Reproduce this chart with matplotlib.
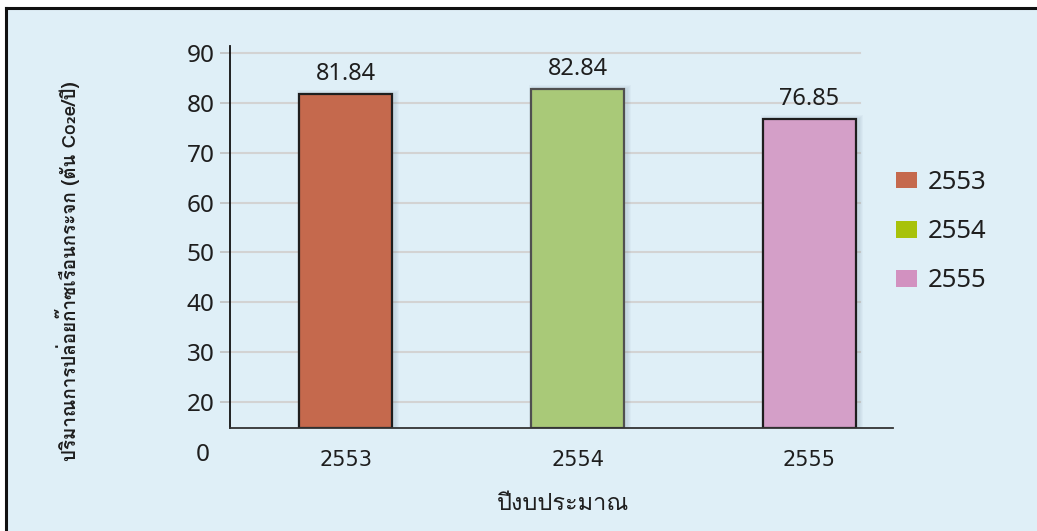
import matplotlib
matplotlib.use("Agg")
import matplotlib.pyplot as plt
import matplotlib.transforms as mtransforms
from matplotlib import font_manager
from matplotlib.ft2font import FT2Font
from matplotlib.patches import Patch, Rectangle

# ---- data ----
years = ["2553", "2554", "2555"]
emissions = [81.84, 82.84, 76.85]
y_ticks = [20, 30, 40, 50, 60, 70, 80, 90]
x_title = "ปีงบประมาณ"
y_title = "ปริมาณการปล่อยก๊าซเรือนกระจก (ตัน Co\u2082e/ปี)"

bar_colors = ["#c5694d", "#a9c978", "#d49fc8"]
bar_edges = ["#1e1e1e", "#505050", "#1e1e1e"]
legend_colors = ["#c5694d", "#a8c20a", "#d291c0"]
bg = "#dfeff7"
text_color = "#1e1e1e"


def thai_family():
    """Return the first installed family that has Thai glyphs."""
    for fe in font_manager.fontManager.ttflist:
        try:
            cmap = FT2Font(fe.fname).get_charmap()
        except Exception:
            continue
        if 0x0E1B in cmap and 0x0E13 in cmap and 0x0E07 in cmap:
            return fe.name
    return None


tf = thai_family()
thai_fonts = ([tf] if tf else []) + ["DejaVu Sans"]
num_font = ["Noto Sans", "DejaVu Sans"]

W, H, DPI = 1037, 531, 100
fig = plt.figure(figsize=(W / DPI, H / DPI), dpi=DPI)
fig.patch.set_facecolor("white")

# light blue panel with a dark frame on the top and left
panel = Rectangle((6 / W, 0), 1 - 6 / W, 1 - 8 / H, transform=fig.transFigure,
                  facecolor=bg, edgecolor="none", zorder=-10)
fig.patches.append(panel)
fig.add_artist(plt.Line2D([6 / W, 1], [1 - 8 / H, 1 - 8 / H], transform=fig.transFigure,
                          color="#111111", lw=2.2))
fig.add_artist(plt.Line2D([6 / W, 6 / W], [0, 1 - 8 / H], transform=fig.transFigure,
                          color="#111111", lw=2.2))

ax = fig.add_axes([230 / W, 1 - 428 / H, (893 - 230) / W, (428 - 46) / H])
ax.set_facecolor("none")

x = list(range(len(years)))
ax.set_xlim(-0.498, 2.36)
ax.set_ylim(14.79, 91.4)
y0 = ax.get_ylim()[0]

# horizontal grid lines that stop short of the right end of the axis
for t in y_ticks:
    ax.axhline(t, xmin=0, xmax=0.95, color="#d3d3d3", lw=1.5, zorder=0)

# soft shadow under bars, slightly offset to the right
for i, v in enumerate(emissions):
    for k in [0.10, 0.07, 0.045, 0.025]:
        ax.add_patch(Rectangle((i - 0.2 - k * 0.2 + 0.012, y0), 0.40 + k * 0.4,
                               v - y0 + k * 8, facecolor="#557585",
                               alpha=0.045, edgecolor="none", zorder=1))

bars = ax.bar(x, [v - y0 for v in emissions], width=0.40, bottom=y0,
              color=bar_colors, edgecolor=bar_edges, linewidth=1.6, zorder=2)

for i, v in enumerate(emissions):
    ax.annotate(f"{v:.2f}", xy=(i, v), xytext=(0, 9.5), textcoords="offset points",
                ha="center", va="baseline", fontsize=17, color=text_color,
                family=num_font)

ax.set_yticks(y_ticks)
ax.set_yticklabels([str(t) for t in y_ticks], fontsize=17.5, color=text_color,
                   family=num_font)
ax.tick_params(axis="y", length=7, width=1.2, color="#bfbfbf", pad=4)
ax.set_xticks(x)
ax.set_xticklabels(years, fontsize=15, color=text_color, family="DejaVu Sans")
ax.tick_params(axis="x", length=0, pad=16)

# the zero label sits below the truncated axis
ax.text(-0.03, 9.4, "0", transform=mtransforms.blended_transform_factory(ax.transAxes, ax.transData),
        ha="right", va="center", fontsize=17.5, color=text_color, family=num_font, clip_on=False)

for s in ["top", "right"]:
    ax.spines[s].set_visible(False)
ax.spines["left"].set_color("#111111")
ax.spines["left"].set_linewidth(1.3)
ax.spines["bottom"].set_color("#333333")
ax.spines["bottom"].set_linewidth(1.3)

fig.text(563 / W, 1 - 503 / H, x_title, ha="center", va="center", fontsize=17,
         color=text_color, family=thai_fonts)
fig.text(68 / W, 1 - 271 / H, y_title, ha="center", va="center", rotation=90,
         fontsize=13.5, fontweight="bold", color=text_color, family=thai_fonts)

handles = [Patch(facecolor=c, edgecolor="none") for c in legend_colors]
leg = fig.legend(handles, years, loc="upper left", bbox_to_anchor=(873 / W, 1 - 147 / H),
                 frameon=False, prop={"family": num_font, "size": 18.5},
                 handlelength=0.8, handleheight=0.62, handletextpad=0.45,
                 labelspacing=0.94, labelcolor=text_color)

fig.savefig("out.png", dpi=DPI, facecolor="white")
